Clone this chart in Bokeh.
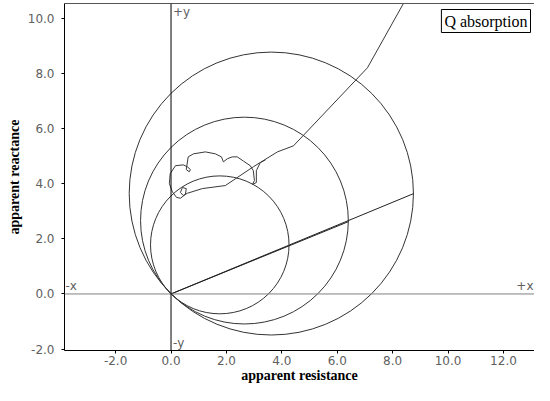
from bokeh.plotting import figure
from bokeh.models import Range1d, FixedTicker, NumeralTickFormatter, Label, Span, LinearAxis
from bokeh.embed import file_html
from bokeh.resources import INLINE

# ---- data ----
x_ticks = [-2, 0, 2, 4, 6, 8, 10, 12]
y_ticks = [-2, 0, 2, 4, 6, 8, 10]

circle_cx = [3.62, 2.65, 1.76]
circle_cy = [3.64, 2.66, 1.78]
circle_r = [5.13, 3.75, 2.50]

line_xs = [[0.0, 8.76], [0.0, 6.40]]
line_ys = [[0.0, 3.64], [0.0, 2.62]]

traj_x = [8.65, 7.09, 4.42, 3.84, 2.97, 1.96, 1.13, 0.59,
          0.44, 0.34, 0.41, 0.55, 0.52, 0.34,
          0.20, 0.05, -0.06, -0.03, 0.16, 0.44,
          0.59, 0.70, 0.66, 0.55, 0.62, 0.81,
          1.24, 1.60, 1.82, 1.89, 2.03, 2.21,
          2.39, 2.61, 2.86, 2.97, 3.01, 2.94,
          3.08, 3.08, 3.22, 3.41]
traj_y = [11.0, 8.20, 5.37, 5.15, 4.61, 3.93, 3.82, 3.65,
          3.57, 3.68, 3.86, 3.82, 3.61, 3.47,
          3.50, 3.70, 4.00, 4.36, 4.65, 4.68,
          4.61, 4.51, 4.43, 4.51, 4.97, 5.08,
          5.15, 5.08, 4.97, 4.79, 4.90, 4.97,
          4.97, 4.82, 4.65, 4.47, 4.11, 3.97,
          4.04, 4.47, 4.76, 4.86]

x_lo, x_hi = -3.845, 13.12
y_lo, y_hi = -2.05, 10.53

p = figure(width=534, height=385, x_range=Range1d(x_lo, x_hi), y_range=Range1d(y_lo, y_hi),
           output_backend="svg", toolbar_location=None,
           min_border_left=64, min_border_right=0, min_border_top=3, min_border_bottom=0)
p.outline_line_color = None
p.xgrid.grid_line_color = None
p.ygrid.grid_line_color = None
p.background_fill_color = "white"
p.border_fill_color = "white"

for ax, ticks, lab in ((p.xaxis[0], x_ticks, "apparent resistance"), (p.yaxis[0], y_ticks, "apparent reactance")):
    ax.ticker = FixedTicker(ticks=ticks)
    ax.formatter = NumeralTickFormatter(format="0.0")
    ax.axis_line_color = "black"
    ax.major_tick_line_color = "black"
    ax.major_tick_out = 3
    ax.major_tick_in = 0
    ax.minor_tick_line_color = None
    ax.major_label_text_font = "DejaVu Sans"
    ax.major_label_text_font_size = "12px"
    ax.major_label_text_color = "#606060"
    ax.axis_label = lab
    ax.axis_label_text_font = "Liberation Serif"
    ax.axis_label_text_font_style = "bold"
    ax.axis_label_text_font_size = "14px"
    ax.axis_label_text_color = "black"
p.xaxis[0].major_label_standoff = 2
p.xaxis[0].axis_label_standoff = 0
p.yaxis[0].major_label_standoff = 7
p.yaxis[0].axis_label_standoff = 3

top = LinearAxis(ticker=FixedTicker(ticks=[]), axis_line_color="#555555",
                 major_tick_line_color=None, minor_tick_line_color=None,
                 major_label_standoff=0, major_tick_out=0)
p.add_layout(top, "above")

p.add_layout(Span(location=0, dimension="width", line_color="#808080", line_width=1))
p.add_layout(Span(location=0, dimension="height", line_color="black", line_width=1))

p.ellipse(x=circle_cx, y=circle_cy, width=[2 * r for r in circle_r], height=[2 * r for r in circle_r],
          fill_color=None, line_color="#333333", line_width=1)
p.multi_line(xs=line_xs, ys=line_ys, line_color="#222222", line_width=1)
p.line(traj_x, traj_y, line_color="#3a3a3a", line_width=1)

lab_kw = dict(text_font="DejaVu Sans", text_font_size="12px", text_color="#606060")
p.add_layout(Label(x=0, y=y_hi, text="+y", x_offset=2, y_offset=-1, text_align="left", text_baseline="top", **lab_kw))
p.add_layout(Label(x=0, y=y_lo, text="-y", x_offset=2, y_offset=1, text_align="left", text_baseline="bottom", **lab_kw))
p.add_layout(Label(x=x_lo, y=0, text="-x", x_offset=1, y_offset=1, text_align="left", text_baseline="bottom", **lab_kw))
p.add_layout(Label(x=x_hi, y=0, text="+x", x_offset=-1, y_offset=1, text_align="right", text_baseline="bottom", **lab_kw))

p.add_layout(Label(x=x_hi, y=y_hi, text="Q absorption", x_offset=-4, y_offset=-6,
                   text_align="right", text_baseline="top",
                   text_font="Liberation Serif", text_font_size="16px", text_color="black",
                   border_line_color="black", border_line_width=1,
                   background_fill_color="white", padding=3))

open("out.html", "w").write(file_html(p, INLINE))
